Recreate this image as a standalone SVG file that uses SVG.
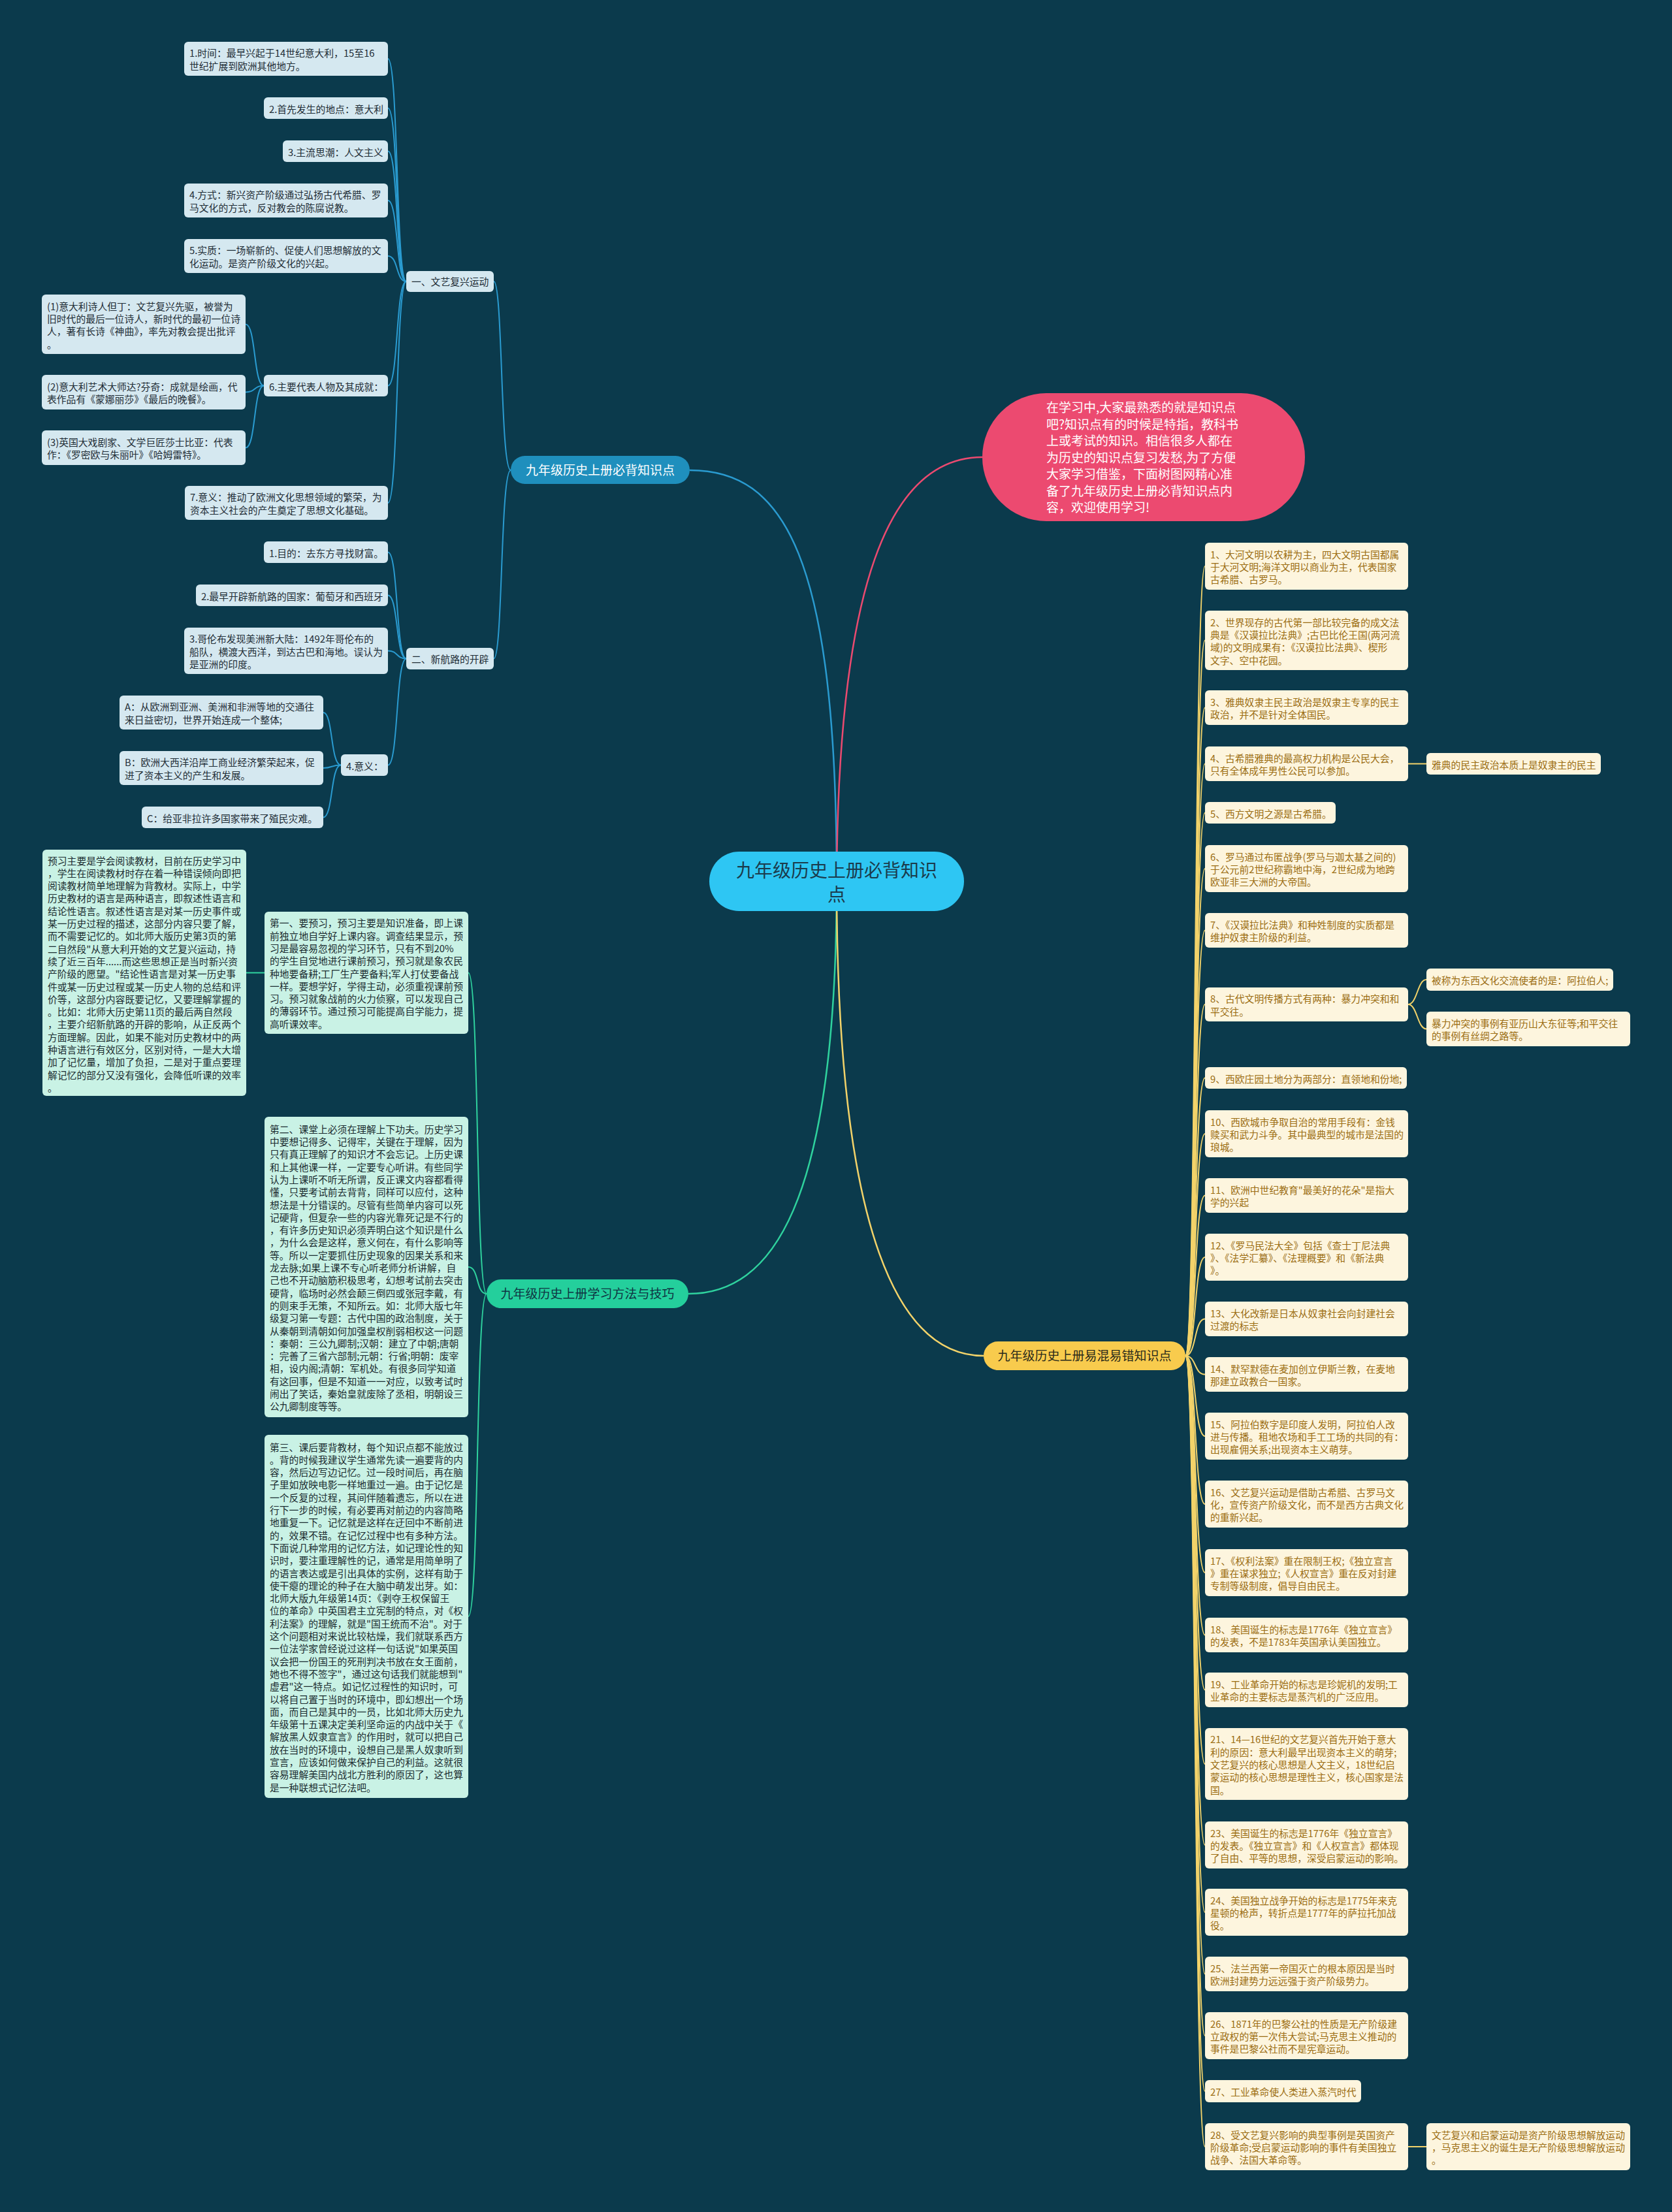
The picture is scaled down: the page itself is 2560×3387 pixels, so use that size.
<svg xmlns="http://www.w3.org/2000/svg" width="2560" height="3387" viewBox="0 0 2560 3387">
<style>
text{font-family:"Noto Sans CJK SC","Noto Sans",sans-serif;}
.t{font-size:14.8px;}
.bl{fill:#d5e8f0;}
.blt{fill:#1f2d36;}
.mn{fill:#c9f2e5;}
.mnt{fill:#1b2c30;}
.cr{fill:#fdf5de;}
.crt{fill:#9b6d12;}
.lb{fill:none;stroke:#2a9bd0;stroke-width:2;}
.lg{fill:none;stroke:#2fd29e;stroke-width:2;}
.ly{fill:none;stroke:#f3d36a;stroke-width:2;}
.lp{fill:none;stroke:#ec4a70;stroke-width:2.5;}
.l1b{fill:none;stroke:#2a9bd0;stroke-width:2.5;}
.l1g{fill:none;stroke:#2fd29e;stroke-width:2.5;}
.l1y{fill:none;stroke:#f3d36a;stroke-width:2.5;}
</style>
<rect x="0" y="0" width="2560" height="3387" fill="#0b3a4c"/>

<g id="connectors">
<path class="l1b" d="M1281,1349 C1281,850 1200,720 1056,720"/>
<path class="lp" d="M1281,1349 C1283,900 1360,700 1504,700"/>
<path class="l1g" d="M1281,1349 C1281,1850 1180,1981 1054,1981"/>
<path class="l1y" d="M1281,1349 C1281,1900 1380,2076 1506,2076"/>
<path class="lb" d="M782,720 C766,720 770,431 756,431"/>
<path class="lb" d="M782,720 C766,720 770,1008.5 756,1008.5"/>
<path class="lb" d="M622,431 C606,431 610,90 594,90"/>
<path class="lb" d="M622,431 C606,431 610,165.5 594,165.5"/>
<path class="lb" d="M622,431 C606,431 610,231.5 594,231.5"/>
<path class="lb" d="M622,431 C606,431 610,307 594,307"/>
<path class="lb" d="M622,431 C606,431 610,392 594,392"/>
<path class="lb" d="M622,431 C606,431 610,590.5 594,590.5"/>
<path class="lb" d="M622,431 C606,431 610,770 594,770"/>
<path class="lb" d="M404,590.5 C388,590.5 392,496.5 376,496.5"/>
<path class="lb" d="M404,590.5 C388,590.5 392,600.5 376,600.5"/>
<path class="lb" d="M404,590.5 C388,590.5 392,685.5 376,685.5"/>
<path class="lb" d="M622,1008.5 C606,1008.5 610,845.5 594,845.5"/>
<path class="lb" d="M622,1008.5 C606,1008.5 610,911.5 594,911.5"/>
<path class="lb" d="M622,1008.5 C606,1008.5 610,996.5 594,996.5"/>
<path class="lb" d="M622,1008.5 C606,1008.5 610,1171.5 594,1171.5"/>
<path class="lb" d="M522,1171.5 C506,1171.5 510,1091 495,1091"/>
<path class="lb" d="M522,1171.5 C506,1171.5 510,1176 495,1176"/>
<path class="lb" d="M522,1171.5 C506,1171.5 510,1251.5 495,1251.5"/>
<path class="lg" d="M745,1981 C728,1981 734,1489.5 717,1489.5"/>
<path class="lg" d="M745,1981 C728,1981 734,1940 717,1940"/>
<path class="lg" d="M745,1981 C728,1981 734,2475 717,2475"/>
<path class="lg" d="M405,1489.5 L377,1489.5"/>
<path class="ly" d="M1815,2076 C1832,2076 1828,867 1845,867"/>
<path class="ly" d="M1815,2076 C1832,2076 1828,980.5 1845,980.5"/>
<path class="ly" d="M1815,2076 C1832,2076 1828,1083.5 1845,1083.5"/>
<path class="ly" d="M1815,2076 C1832,2076 1828,1169.5 1845,1169.5"/>
<path class="ly" d="M1815,2076 C1832,2076 1828,1244.5 1845,1244.5"/>
<path class="ly" d="M1815,2076 C1832,2076 1828,1330 1845,1330"/>
<path class="ly" d="M1815,2076 C1832,2076 1828,1424.5 1845,1424.5"/>
<path class="ly" d="M1815,2076 C1832,2076 1828,1538 1845,1538"/>
<path class="ly" d="M1815,2076 C1832,2076 1828,1650.5 1845,1650.5"/>
<path class="ly" d="M1815,2076 C1832,2076 1828,1736 1845,1736"/>
<path class="ly" d="M1815,2076 C1832,2076 1828,1830.5 1845,1830.5"/>
<path class="ly" d="M1815,2076 C1832,2076 1828,1925 1845,1925"/>
<path class="ly" d="M1815,2076 C1832,2076 1828,2019.5 1845,2019.5"/>
<path class="ly" d="M1815,2076 C1832,2076 1828,2104.5 1845,2104.5"/>
<path class="ly" d="M1815,2076 C1832,2076 1828,2199 1845,2199"/>
<path class="ly" d="M1815,2076 C1832,2076 1828,2303 1845,2303"/>
<path class="ly" d="M1815,2076 C1832,2076 1828,2408 1845,2408"/>
<path class="ly" d="M1815,2076 C1832,2076 1828,2503.5 1845,2503.5"/>
<path class="ly" d="M1815,2076 C1832,2076 1828,2587.5 1845,2587.5"/>
<path class="ly" d="M1815,2076 C1832,2076 1828,2701 1845,2701"/>
<path class="ly" d="M1815,2076 C1832,2076 1828,2825 1845,2825"/>
<path class="ly" d="M1815,2076 C1832,2076 1828,2928 1845,2928"/>
<path class="ly" d="M1815,2076 C1832,2076 1828,3022.5 1845,3022.5"/>
<path class="ly" d="M1815,2076 C1832,2076 1828,3117 1845,3117"/>
<path class="ly" d="M1815,2076 C1832,2076 1828,3202 1845,3202"/>
<path class="ly" d="M1815,2076 C1832,2076 1828,3287 1845,3287"/>
<path class="ly" d="M2156,1169.5 L2184,1169.5"/>
<path class="ly" d="M2156,1538 C2170,1538 2170,1500 2184,1500"/>
<path class="ly" d="M2156,1538 C2170,1538 2170,1575.5 2184,1575.5"/>
<path class="ly" d="M2156,3287 L2184,3287"/>
</g>

<g id="root">
<rect x="1086" y="1304" width="390" height="91" rx="45.5" fill="#2ec6f3"/>
<text x="1281" y="1343" font-size="28" fill="#1b3b4c" text-anchor="middle">九年级历史上册必背知识<tspan x="1281" dy="37">点</tspan></text>
</g>

<g id="intro">
<rect x="1504" y="602" width="494" height="196" rx="98" fill="#ec4a70"/>
<text x="1602" y="631" font-size="19" fill="#ffffff">在学习中,大家最熟悉的就是知识点<tspan x="1602" dy="25.5">吧?知识点有的时候是特指，教科书</tspan><tspan x="1602" dy="25.5">上或考试的知识。相信很多人都在</tspan><tspan x="1602" dy="25.5">为历史的知识点复习发愁,为了方便</tspan><tspan x="1602" dy="25.5">大家学习借鉴，下面树图网精心准</tspan><tspan x="1602" dy="25.5">备了九年级历史上册必背知识点内</tspan><tspan x="1602" dy="25.5">容，欢迎使用学习!</tspan></text>
</g>

<g id="b1">
<rect x="782" y="698" width="274" height="43" rx="21.5" fill="#1f8fbd"/>
<text x="919" y="727" font-size="19" fill="#ffffff" text-anchor="middle">九年级历史上册必背知识点</text>
</g>
<g id="b2">
<rect x="745" y="1959" width="309" height="44" rx="22" fill="#24cf9c"/>
<text x="899.5" y="1988" font-size="19" fill="#0f3442" text-anchor="middle">九年级历史上册学习方法与技巧</text>
</g>
<g id="b3">
<rect x="1506" y="2054" width="309" height="44" rx="22" fill="#f8cb4d"/>
<text x="1660.5" y="2083" font-size="19" fill="#2a2a1a" text-anchor="middle">九年级历史上册易混易错知识点</text>
</g>

<g id="n-wenyi">
<rect class="bl" x="622" y="415" width="134" height="32" rx="6"/>
<text class="t blt" x="630" y="437">一、文艺复兴运动</text>
</g>
<g id="n-hanglu">
<rect class="bl" x="622" y="992" width="134" height="33" rx="6"/>
<text class="t blt" x="630" y="1014.5">二、新航路的开辟</text>
</g>

<g id="w1"><rect class="bl" x="282" y="64" width="312" height="52" rx="6"/>
<text class="t blt" x="290" y="87.4">1.时间：最早兴起于14世纪意大利，15至16<tspan x="290" dy="19.3">世纪扩展到欧洲其他地方。</tspan></text></g>
<g id="w2"><rect class="bl" x="404" y="149" width="190" height="33" rx="6"/>
<text class="t blt" x="412" y="172.5">2.首先发生的地点：意大利</text></g>
<g id="w3"><rect class="bl" x="433" y="215" width="161" height="33" rx="6"/>
<text class="t blt" x="441" y="238.5">3.主流思潮：人文主义</text></g>
<g id="w4"><rect class="bl" x="282" y="281" width="312" height="52" rx="6"/>
<text class="t blt" x="290" y="304.4">4.方式：新兴资产阶级通过弘扬古代希腊、罗<tspan x="290" dy="19.3">马文化的方式，反对教会的陈腐说教。</tspan></text></g>
<g id="w5"><rect class="bl" x="282" y="366" width="312" height="52" rx="6"/>
<text class="t blt" x="290" y="389.4">5.实质：一场崭新的、促使人们思想解放的文<tspan x="290" dy="19.3">化运动。是资产阶级文化的兴起。</tspan></text></g>
<g id="w6"><rect class="bl" x="404" y="574" width="190" height="33" rx="6"/>
<text class="t blt" x="412" y="597.5">6.主要代表人物及其成就：</text></g>
<g id="w6a"><rect class="bl" x="64" y="451" width="312" height="91" rx="6"/>
<text class="t blt" x="72" y="474.6">(1)意大利诗人但丁：文艺复兴先驱，被誉为<tspan x="72" dy="19.3">旧时代的最后一位诗人，新时代的最初一位诗</tspan><tspan x="72" dy="19.3">人，著有长诗《神曲》，率先对教会提出批评</tspan><tspan x="72" dy="19.3">。</tspan></text></g>
<g id="w6b"><rect class="bl" x="64" y="574" width="312" height="53" rx="6"/>
<text class="t blt" x="72" y="597.9">(2)意大利艺术大师达?芬奇：成就是绘画，代<tspan x="72" dy="19.3">表作品有《蒙娜丽莎》《最后的晚餐》。</tspan></text></g>
<g id="w6c"><rect class="bl" x="64" y="659" width="312" height="53" rx="6"/>
<text class="t blt" x="72" y="682.9">(3)英国大戏剧家、文学巨匠莎士比亚：代表<tspan x="72" dy="19.3">作：《罗密欧与朱丽叶》《哈姆雷特》。</tspan></text></g>
<g id="w7"><rect class="bl" x="283" y="744" width="311" height="52" rx="6"/>
<text class="t blt" x="291" y="767.4">7.意义：推动了欧洲文化思想领域的繁荣，为<tspan x="291" dy="19.3">资本主义社会的产生奠定了思想文化基础。</tspan></text></g>

<g id="h1"><rect class="bl" x="404" y="829" width="190" height="33" rx="6"/>
<text class="t blt" x="412" y="852.5">1.目的：去东方寻找财富。</text></g>
<g id="h2"><rect class="bl" x="300" y="895" width="294" height="33" rx="6"/>
<text class="t blt" x="308" y="918.5">2.最早开辟新航路的国家：葡萄牙和西班牙</text></g>
<g id="h3"><rect class="bl" x="282" y="961" width="312" height="71" rx="6"/>
<text class="t blt" x="290" y="984.2">3.哥伦布发现美洲新大陆：1492年哥伦布的<tspan x="290" dy="19.3">船队，横渡大西洋，到达古巴和海地。误认为</tspan><tspan x="290" dy="19.3">是亚洲的印度。</tspan></text></g>
<g id="h4"><rect class="bl" x="522" y="1155" width="72" height="33" rx="6"/>
<text class="t blt" x="530" y="1178.5">4.意义：</text></g>
<g id="h4a"><rect class="bl" x="183" y="1065" width="312" height="52" rx="6"/>
<text class="t blt" x="191" y="1088.4">A：从欧洲到亚洲、美洲和非洲等地的交通往<tspan x="191" dy="19.3">来日益密切，世界开始连成一个整体;</tspan></text></g>
<g id="h4b"><rect class="bl" x="183" y="1150" width="312" height="52" rx="6"/>
<text class="t blt" x="191" y="1173.4">B：欧洲大西洋沿岸工商业经济繁荣起来，促<tspan x="191" dy="19.3">进了资本主义的产生和发展。</tspan></text></g>
<g id="h4c"><rect class="bl" x="217" y="1235" width="278" height="33" rx="6"/>
<text class="t blt" x="225" y="1258.5">C：给亚非拉许多国家带来了殖民灾难。</text></g>

<g id="m0"><rect class="mn" x="65" y="1301" width="312" height="377" rx="6"/>
<text class="t mnt" x="73" y="1323.5">预习主要是学会阅读教材，目前在历史学习中<tspan x="73" dy="19.3">，学生在阅读教材时存在着一种错误倾向即把</tspan><tspan x="73" dy="19.3">阅读教材简单地理解为背教材。实际上，中学</tspan><tspan x="73" dy="19.3">历史教材的语言是两种语言，即叙述性语言和</tspan><tspan x="73" dy="19.3">结论性语言。叙述性语言是对某一历史事件或</tspan><tspan x="73" dy="19.3">某一历史过程的描述，这部分内容只要了解，</tspan><tspan x="73" dy="19.3">而不需要记忆的。如北师大版历史第3页的第</tspan><tspan x="73" dy="19.3">二自然段"从意大利开始的文艺复兴运动，持</tspan><tspan x="73" dy="19.3">续了近三百年......而这些思想正是当时新兴资</tspan><tspan x="73" dy="19.3">产阶级的愿望。"结论性语言是对某一历史事</tspan><tspan x="73" dy="19.3">件或某一历史过程或某一历史人物的总结和评</tspan><tspan x="73" dy="19.3">价等，这部分内容既要记忆，又要理解掌握的</tspan><tspan x="73" dy="19.3">。比如：北师大历史第11页的最后两自然段</tspan><tspan x="73" dy="19.3">，主要介绍新航路的开辟的影响，从正反两个</tspan><tspan x="73" dy="19.3">方面理解。因此，如果不能对历史教材中的两</tspan><tspan x="73" dy="19.3">种语言进行有效区分，区别对待，一是大大增</tspan><tspan x="73" dy="19.3">加了记忆量，增加了负担，二是对于重点要理</tspan><tspan x="73" dy="19.3">解记忆的部分又没有强化，会降低听课的效率</tspan><tspan x="73" dy="19.3">。</tspan></text></g>

<g id="m1"><rect class="mn" x="405" y="1396" width="312" height="187" rx="6"/>
<text class="t mnt" x="413" y="1419.3">第一、要预习，预习主要是知识准备，即上课<tspan x="413" dy="19.3">前独立地自学好上课内容。调查结果显示，预</tspan><tspan x="413" dy="19.3">习是最容易忽视的学习环节，只有不到20%</tspan><tspan x="413" dy="19.3">的学生自觉地进行课前预习，预习就是象农民</tspan><tspan x="413" dy="19.3">种地要备耕;工厂生产要备料;军人打仗要备战</tspan><tspan x="413" dy="19.3">一样。要想学好，学得主动，必须重视课前预</tspan><tspan x="413" dy="19.3">习。预习就象战前的火力侦察，可以发现自己</tspan><tspan x="413" dy="19.3">的薄弱环节。通过预习可能提高自学能力，提</tspan><tspan x="413" dy="19.3">高听课效率。</tspan></text></g>

<g id="m2"><rect class="mn" x="405" y="1710" width="312" height="460" rx="6"/>
<text class="t mnt" x="413" y="1734.7">第二、课堂上必须在理解上下功夫。历史学习<tspan x="413" dy="19.3">中要想记得多、记得牢，关键在于理解，因为</tspan><tspan x="413" dy="19.3">只有真正理解了的知识才不会忘记。上历史课</tspan><tspan x="413" dy="19.3">和上其他课一样，一定要专心听讲。有些同学</tspan><tspan x="413" dy="19.3">认为上课听不听无所谓，反正课文内容都看得</tspan><tspan x="413" dy="19.3">懂，只要考试前去背背，同样可以应付，这种</tspan><tspan x="413" dy="19.3">想法是十分错误的。尽管有些简单内容可以死</tspan><tspan x="413" dy="19.3">记硬背，但复杂一些的内容光靠死记是不行的</tspan><tspan x="413" dy="19.3">，有许多历史知识必须弄明白这个知识是什么</tspan><tspan x="413" dy="19.3">，为什么会是这样，意义何在，有什么影响等</tspan><tspan x="413" dy="19.3">等。所以一定要抓住历史现象的因果关系和来</tspan><tspan x="413" dy="19.3">龙去脉;如果上课不专心听老师分析讲解，自</tspan><tspan x="413" dy="19.3">己也不开动脑筋积极思考，幻想考试前去突击</tspan><tspan x="413" dy="19.3">硬背，临场时必然会颠三倒四或张冠李戴，有</tspan><tspan x="413" dy="19.3">的则束手无策，不知所云。如：北师大版七年</tspan><tspan x="413" dy="19.3">级复习第一专题：古代中国的政治制度，关于</tspan><tspan x="413" dy="19.3">从秦朝到清朝如何加强皇权削弱相权这一问题</tspan><tspan x="413" dy="19.3">：秦朝：三公九卿制;汉朝：建立了中朝;唐朝</tspan><tspan x="413" dy="19.3">：完善了三省六部制;元朝：行省;明朝：废宰</tspan><tspan x="413" dy="19.3">相，设内阁;清朝：军机处。有很多同学知道</tspan><tspan x="413" dy="19.3">有这回事，但是不知道一一对应，以致考试时</tspan><tspan x="413" dy="19.3">闹出了笑话，秦始皇就废除了丞相，明朝设三</tspan><tspan x="413" dy="19.3">公九卿制度等等。</tspan></text></g>

<g id="m3"><rect class="mn" x="405" y="2197" width="312" height="556" rx="6"/>
<text class="t mnt" x="413" y="2221.5">第三、课后要背教材，每个知识点都不能放过<tspan x="413" dy="19.3">。背的时候我建议学生通常先读一遍要背的内</tspan><tspan x="413" dy="19.3">容，然后边写边记忆。过一段时间后，再在脑</tspan><tspan x="413" dy="19.3">子里如放映电影一样地重过一遍。由于记忆是</tspan><tspan x="413" dy="19.3">一个反复的过程，其间伴随着遗忘，所以在进</tspan><tspan x="413" dy="19.3">行下一步的时候，有必要再对前边的内容简略</tspan><tspan x="413" dy="19.3">地重复一下。记忆就是这样在迂回中不断前进</tspan><tspan x="413" dy="19.3">的，效果不错。在记忆过程中也有多种方法。</tspan><tspan x="413" dy="19.3">下面说几种常用的记忆方法，如记理论性的知</tspan><tspan x="413" dy="19.3">识时，要注重理解性的记，通常是用简单明了</tspan><tspan x="413" dy="19.3">的语言表达或是引出具体的实例，这样有助于</tspan><tspan x="413" dy="19.3">使干瘪的理论的种子在大脑中萌发出芽。如：</tspan><tspan x="413" dy="19.3">北师大版九年级第14页：《剥夺王权保留王</tspan><tspan x="413" dy="19.3">位的革命》中英国君主立宪制的特点，对《权</tspan><tspan x="413" dy="19.3">利法案》的理解，就是"国王统而不治"。对于</tspan><tspan x="413" dy="19.3">这个问题相对来说比较枯燥，我们就联系西方</tspan><tspan x="413" dy="19.3">一位法学家曾经说过这样一句话说"如果英国</tspan><tspan x="413" dy="19.3">议会把一份国王的死刑判决书放在女王面前，</tspan><tspan x="413" dy="19.3">她也不得不签字"，通过这句话我们就能想到"</tspan><tspan x="413" dy="19.3">虚君"这一特点。如记忆过程性的知识时，可</tspan><tspan x="413" dy="19.3">以将自己置于当时的环境中，即幻想出一个场</tspan><tspan x="413" dy="19.3">面，而自己是其中的一员，比如北师大历史九</tspan><tspan x="413" dy="19.3">年级第十五课决定美利坚命运的内战中关于《</tspan><tspan x="413" dy="19.3">解放黑人奴隶宣言》的作用时，就可以把自己</tspan><tspan x="413" dy="19.3">放在当时的环境中，设想自己是黑人奴隶听到</tspan><tspan x="413" dy="19.3">宣言，应该如何做来保护自己的利益。这就很</tspan><tspan x="413" dy="19.3">容易理解美国内战北方胜利的原因了，这也算</tspan><tspan x="413" dy="19.3">是一种联想式记忆法吧。</tspan></text></g>

<g id="y1"><rect class="cr" x="1845" y="831" width="311" height="72" rx="6"/>
<text class="t crt" x="1853" y="854.7">1、大河文明以农耕为主，四大文明古国都属<tspan x="1853" dy="19.3">于大河文明;海洋文明以商业为主，代表国家</tspan><tspan x="1853" dy="19.3">古希腊、古罗马。</tspan></text></g>
<g id="y2"><rect class="cr" x="1845" y="935" width="311" height="91" rx="6"/>
<text class="t crt" x="1853" y="958.6">2、世界现存的古代第一部比较完备的成文法<tspan x="1853" dy="19.3">典是《汉谟拉比法典》;古巴比伦王国(两河流</tspan><tspan x="1853" dy="19.3">域)的文明成果有：《汉谟拉比法典》、楔形</tspan><tspan x="1853" dy="19.3">文字、空中花园。</tspan></text></g>
<g id="y3"><rect class="cr" x="1845" y="1057" width="311" height="53" rx="6"/>
<text class="t crt" x="1853" y="1080.9">3、雅典奴隶主民主政治是奴隶主专享的民主<tspan x="1853" dy="19.3">政治，并不是针对全体国民。</tspan></text></g>
<g id="y4"><rect class="cr" x="1845" y="1143" width="311" height="53" rx="6"/>
<text class="t crt" x="1853" y="1166.9">4、古希腊雅典的最高权力机构是公民大会，<tspan x="1853" dy="19.3">只有全体成年男性公民可以参加。</tspan></text></g>
<g id="y4a"><rect class="cr" x="2184" y="1153" width="267" height="33" rx="6"/>
<text class="t crt" x="2192" y="1176.5">雅典的民主政治本质上是奴隶主的民主</text></g>
<g id="y5"><rect class="cr" x="1845" y="1228" width="200" height="33" rx="6"/>
<text class="t crt" x="1853" y="1251.5">5、西方文明之源是古希腊。</text></g>
<g id="y6"><rect class="cr" x="1845" y="1294" width="311" height="72" rx="6"/>
<text class="t crt" x="1853" y="1317.7">6、罗马通过布匿战争(罗马与迦太基之间的)<tspan x="1853" dy="19.3">于公元前2世纪称霸地中海，2世纪成为地跨</tspan><tspan x="1853" dy="19.3">欧亚非三大洲的大帝国。</tspan></text></g>
<g id="y7"><rect class="cr" x="1845" y="1398" width="311" height="53" rx="6"/>
<text class="t crt" x="1853" y="1421.9">7、《汉谟拉比法典》和种姓制度的实质都是<tspan x="1853" dy="19.3">维护奴隶主阶级的利益。</tspan></text></g>
<g id="y8"><rect class="cr" x="1845" y="1512" width="311" height="52" rx="6"/>
<text class="t crt" x="1853" y="1535.4">8、古代文明传播方式有两种：暴力冲突和和<tspan x="1853" dy="19.3">平交往。</tspan></text></g>
<g id="y8a"><rect class="cr" x="2184" y="1483" width="286" height="34" rx="6"/>
<text class="t crt" x="2192" y="1507">被称为东西文化交流使者的是：阿拉伯人;</text></g>
<g id="y8b"><rect class="cr" x="2184" y="1549" width="312" height="53" rx="6"/>
<text class="t crt" x="2192" y="1572.9">暴力冲突的事例有亚历山大东征等;和平交往<tspan x="2192" dy="19.3">的事例有丝绸之路等。</tspan></text></g>
<g id="y9"><rect class="cr" x="1845" y="1634" width="309" height="33" rx="6"/>
<text class="t crt" x="1853" y="1657.5">9、西欧庄园土地分为两部分：直领地和份地;</text></g>
<g id="y10"><rect class="cr" x="1845" y="1700" width="311" height="72" rx="6"/>
<text class="t crt" x="1853" y="1723.7">10、西欧城市争取自治的常用手段有：金钱<tspan x="1853" dy="19.3">赎买和武力斗争。其中最典型的城市是法国的</tspan><tspan x="1853" dy="19.3">琅城。</tspan></text></g>
<g id="y11"><rect class="cr" x="1845" y="1804" width="311" height="53" rx="6"/>
<text class="t crt" x="1853" y="1827.9">11、欧洲中世纪教育"最美好的花朵"是指大<tspan x="1853" dy="19.3">学的兴起</tspan></text></g>
<g id="y12"><rect class="cr" x="1845" y="1889" width="311" height="72" rx="6"/>
<text class="t crt" x="1853" y="1912.7">12、《罗马民法大全》包括《查士丁尼法典<tspan x="1853" dy="19.3">》、《法学汇纂》、《法理概要》和《新法典</tspan><tspan x="1853" dy="19.3">》。</tspan></text></g>
<g id="y13"><rect class="cr" x="1845" y="1993" width="311" height="53" rx="6"/>
<text class="t crt" x="1853" y="2016.9">13、大化改新是日本从奴隶社会向封建社会<tspan x="1853" dy="19.3">过渡的标志</tspan></text></g>
<g id="y14"><rect class="cr" x="1845" y="2078" width="311" height="53" rx="6"/>
<text class="t crt" x="1853" y="2101.9">14、默罕默德在麦加创立伊斯兰教，在麦地<tspan x="1853" dy="19.3">那建立政教合一国家。</tspan></text></g>
<g id="y15"><rect class="cr" x="1845" y="2163" width="311" height="72" rx="6"/>
<text class="t crt" x="1853" y="2186.7">15、阿拉伯数字是印度人发明，阿拉伯人改<tspan x="1853" dy="19.3">进与传播。租地农场和手工工场的共同的有：</tspan><tspan x="1853" dy="19.3">出现雇佣关系;出现资本主义萌芽。</tspan></text></g>
<g id="y16"><rect class="cr" x="1845" y="2267" width="311" height="72" rx="6"/>
<text class="t crt" x="1853" y="2290.7">16、文艺复兴运动是借助古希腊、古罗马文<tspan x="1853" dy="19.3">化，宣传资产阶级文化，而不是西方古典文化</tspan><tspan x="1853" dy="19.3">的重新兴起。</tspan></text></g>
<g id="y17"><rect class="cr" x="1845" y="2372" width="311" height="72" rx="6"/>
<text class="t crt" x="1853" y="2395.7">17、《权利法案》重在限制王权;《独立宣言<tspan x="1853" dy="19.3">》重在谋求独立;《人权宣言》重在反对封建</tspan><tspan x="1853" dy="19.3">专制等级制度，倡导自由民主。</tspan></text></g>
<g id="y18"><rect class="cr" x="1845" y="2477" width="311" height="53" rx="6"/>
<text class="t crt" x="1853" y="2500.9">18、美国诞生的标志是1776年《独立宣言》<tspan x="1853" dy="19.3">的发表，不是1783年英国承认美国独立。</tspan></text></g>
<g id="y19"><rect class="cr" x="1845" y="2561" width="311" height="53" rx="6"/>
<text class="t crt" x="1853" y="2584.9">19、工业革命开始的标志是珍妮机的发明;工<tspan x="1853" dy="19.3">业革命的主要标志是蒸汽机的广泛应用。</tspan></text></g>
<g id="y21"><rect class="cr" x="1845" y="2646" width="311" height="110" rx="6"/>
<text class="t crt" x="1853" y="2669.4">21、14—16世纪的文艺复兴首先开始于意大<tspan x="1853" dy="19.3">利的原因：意大利最早出现资本主义的萌芽;</tspan><tspan x="1853" dy="19.3">文艺复兴的核心思想是人文主义，18世纪启</tspan><tspan x="1853" dy="19.3">蒙运动的核心思想是理性主义，核心国家是法</tspan><tspan x="1853" dy="19.3">国。</tspan></text></g>
<g id="y23"><rect class="cr" x="1845" y="2789" width="311" height="72" rx="6"/>
<text class="t crt" x="1853" y="2812.7">23、美国诞生的标志是1776年《独立宣言》<tspan x="1853" dy="19.3">的发表。《独立宣言》和《人权宣言》都体现</tspan><tspan x="1853" dy="19.3">了自由、平等的思想，深受启蒙运动的影响。</tspan></text></g>
<g id="y24"><rect class="cr" x="1845" y="2892" width="311" height="72" rx="6"/>
<text class="t crt" x="1853" y="2915.7">24、美国独立战争开始的标志是1775年来克<tspan x="1853" dy="19.3">星顿的枪声，转折点是1777年的萨拉托加战</tspan><tspan x="1853" dy="19.3">役。</tspan></text></g>
<g id="y25"><rect class="cr" x="1845" y="2996" width="311" height="53" rx="6"/>
<text class="t crt" x="1853" y="3019.9">25、法兰西第一帝国灭亡的根本原因是当时<tspan x="1853" dy="19.3">欧洲封建势力远远强于资产阶级势力。</tspan></text></g>
<g id="y26"><rect class="cr" x="1845" y="3081" width="311" height="72" rx="6"/>
<text class="t crt" x="1853" y="3104.7">26、1871年的巴黎公社的性质是无产阶级建<tspan x="1853" dy="19.3">立政权的第一次伟大尝试;马克思主义推动的</tspan><tspan x="1853" dy="19.3">事件是巴黎公社而不是宪章运动。</tspan></text></g>
<g id="y27"><rect class="cr" x="1845" y="3185" width="239" height="34" rx="6"/>
<text class="t crt" x="1853" y="3209">27、工业革命使人类进入蒸汽时代</text></g>
<g id="y28"><rect class="cr" x="1845" y="3251" width="311" height="72" rx="6"/>
<text class="t crt" x="1853" y="3274.7">28、受文艺复兴影响的典型事例是英国资产<tspan x="1853" dy="19.3">阶级革命;受启蒙运动影响的事件有美国独立</tspan><tspan x="1853" dy="19.3">战争、法国大革命等。</tspan></text></g>
<g id="y28a"><rect class="cr" x="2184" y="3251" width="312" height="72" rx="6"/>
<text class="t crt" x="2192" y="3274.7">文艺复兴和启蒙运动是资产阶级思想解放运动<tspan x="2192" dy="19.3">，马克思主义的诞生是无产阶级思想解放运动</tspan><tspan x="2192" dy="19.3">。</tspan></text></g>
</svg>
